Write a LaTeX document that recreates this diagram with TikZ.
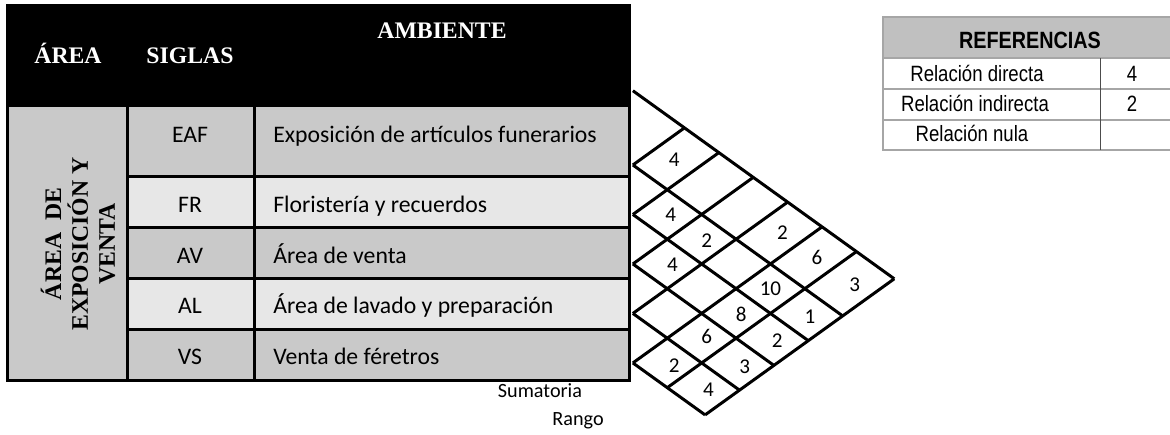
\documentclass[tikz,border=0pt]{standalone}
\usepackage{fontspec}
\setmainfont{Liberation Serif}
\setsansfont{Carlito}
\newfontfamily\narrowsans[FakeStretch=0.84]{Liberation Sans}
\definecolor{rowdark}{HTML}{C9C9C9}
\definecolor{rowlight}{HTML}{E7E7E7}
\definecolor{refhead}{HTML}{C0C0C0}
\definecolor{refline}{HTML}{A6A6A6}
\tikzset{
  headtext/.style={text=white, inner sep=0pt, anchor=base, font=\bfseries\fontsize{13.5}{16}\selectfont},
  celltext/.style={inner sep=0pt, font=\sffamily\fontsize{13.5}{16}\selectfont},
  numtext/.style={inner sep=0pt, font=\sffamily\fontsize{12}{14}\selectfont},
  reftext/.style={inner sep=0pt, anchor=base, font=\narrowsans\fontsize{12.6}{15}\selectfont},
  gridline/.style={line width=1.7pt},
}
\begin{document}
\begin{tikzpicture}[x=0.02cm, y=-0.02cm]
    \useasboundingbox (0,0) rectangle (1170,434);

    % Table frame and header
    \fill[black] (6,4) rectangle (631,382);
    \node[headtext] (hArea) at (68,63.5) {ÁREA};
    \node[headtext] (hSiglas) at (190,63.5) {SIGLAS};
    \node[headtext] (hAmbiente) at (442,38.5) {AMBIENTE};

    % Area column
    \fill[rowdark] (9,107) rectangle (126,379);
    \node[rotate=90, align=center, font=\bfseries\fontsize{13.5}{15.3}\selectfont] (area) at (78,244) {ÁREA\ \ DE\\EXPOSICIÓN Y\\VENTA};

    % Rows
    \fill[rowdark] (129,107) rectangle (253,175);
    \fill[rowdark] (256,107) rectangle (628,175);
    \fill[rowlight] (129,177.5) rectangle (253,226);
    \fill[rowlight] (256,177.5) rectangle (628,226);
    \fill[rowdark] (129,228.5) rectangle (253,277);
    \fill[rowdark] (256,228.5) rectangle (628,277);
    \fill[rowlight] (129,279.5) rectangle (253,328);
    \fill[rowlight] (256,279.5) rectangle (628,328);
    \fill[rowdark] (129,330.5) rectangle (253,379);
    \fill[rowdark] (256,330.5) rectangle (628,379);

    \node[celltext, anchor=base] (sEAF) at (190,142) {EAF};
    \node[celltext, anchor=base west] (aEAF) at (273,142) {Exposición de artículos funerarios};
    \node[celltext, anchor=base] (sFR) at (190,212) {FR};
    \node[celltext, anchor=base west] (aFR) at (273,212) {Floristería y recuerdos};
    \node[celltext, anchor=base] (sAV) at (190,263) {AV};
    \node[celltext, anchor=base west] (aAV) at (273,263) {Área de venta};
    \node[celltext, anchor=base] (sAL) at (190,313.5) {AL};
    \node[celltext, anchor=base west] (aAL) at (273,313.5) {Área de lavado y preparación};
    \node[celltext, anchor=base] (sVS) at (190,364) {VS};
    \node[celltext, anchor=base west] (aVS) at (273,364) {Venta de féretros};

    % Labels below the matrix
    \node[numtext, anchor=base, font=\sffamily\fontsize{11.5}{14}\selectfont] (sumLabel) at (540,397) {Sumatoria};
    \node[numtext, anchor=base, font=\sffamily\fontsize{11.5}{14}\selectfont] (rangoLabel) at (578,425) {Rango};

    % Relation matrix
    \begin{scope}[shift={(12.66cm,-3.3cm)}, x={(0.688cm,-0.495cm)}, y={(0.688cm,0.495cm)}]
        \draw[gridline] (-1.5,1.5) -- (6.1,1.5);
        \draw[gridline] (0,0) -- (6.1,0);
        \draw[gridline] (1,-1) -- (6.1,-1);
        \draw[gridline] (2,-2) -- (6.1,-2);
        \draw[gridline] (3,-3) -- (6.1,-3);
        \draw[gridline] (4,-4) -- (6.1,-4);
        \draw[gridline] (0,0) -- (0,1.5);
        \draw[gridline] (1,-1) -- (1,1.5);
        \draw[gridline] (2,-2) -- (2,1.5);
        \draw[gridline] (3,-3) -- (3,1.5);
        \draw[gridline] (4,-4) -- (4,1.5);
        \draw[gridline] (5,-4) -- (5,1.5);
        \draw[gridline] (6.1,-4) -- (6.1,1.5);

        % Values
        \node[numtext] (rEafFr) at (0.5,0.7) {4};
        \node[numtext] (rFrAv) at (1.55,-0.45) {4};
        \node[numtext] (rFrAl) at (2.6,-0.45) {2};
        \node[numtext] (rAvAl) at (2.6,-1.45) {4};
        \node[numtext] (rEafVs) at (3.55,0.8) {2};
        \node[numtext] (sumEaf) at (4.55,0.8) {6};
        \node[numtext] (rngEaf) at (5.65,0.8) {3};
        \node[numtext] (sumFr) at (4.5,-0.5) {10};
        \node[numtext] (rngFr) at (5.65,-0.5) {1};
        \node[numtext] (sumAv) at (4.6,-1.45) {8};
        \node[numtext] (rngAv) at (5.65,-1.45) {2};
        \node[numtext] (sumAl) at (4.55,-2.4) {6};
        \node[numtext] (rngAl) at (5.7,-2.45) {3};
        \node[numtext] (sumVs) at (4.65,-3.45) {2};
        \node[numtext] (rngVs) at (5.65,-3.45) {4};
    \end{scope}

    % References box
    \fill[refhead] (883,17) rectangle (1170,58);
    \draw[refline, line width=0.8pt] (1170,17) -- (883,17) -- (883,150) -- (1170,150);
    \draw[refline, line width=0.8pt] (883,58) -- (1170,58);
    \draw[refline, line width=0.8pt] (883,89) -- (1170,89);
    \draw[refline, line width=0.8pt] (883,120) -- (1170,120);
    \draw[black!70, line width=0.6pt] (1100.7,58) -- (1100.7,150);
    \node[reftext, font=\narrowsans\bfseries\fontsize{13.4}{16}\selectfont] (refTitle) at (1030,48.3) {REFERENCIAS};
    \node[reftext] (refDirecta) at (977,81.7) {Relación directa};
    \node[reftext] (refIndirecta) at (975,111.7) {Relación indirecta};
    \node[reftext] (refNula) at (972,141.7) {Relación nula};
    \node[reftext] (valDirecta) at (1132,81.7) {4};
    \node[reftext] (valIndirecta) at (1132,111.7) {2};
\end{tikzpicture}
\end{document}
